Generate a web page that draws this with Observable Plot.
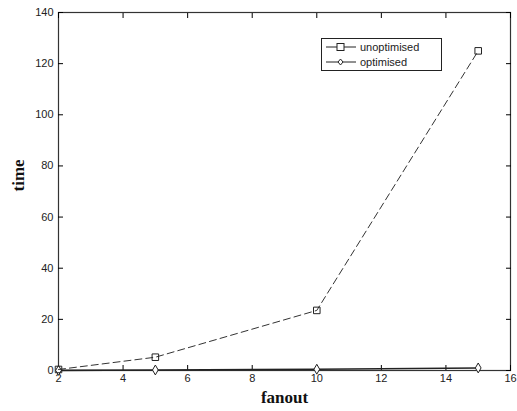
<!DOCTYPE html>
<html><head><meta charset="utf-8">
<script src="https://cdn.jsdelivr.net/npm/d3@7"></script>
<script src="https://cdn.jsdelivr.net/npm/@observablehq/plot@0.6"></script>
<style>
body{margin:0;background:#fff;}
#wrap{position:relative;width:517px;height:411px;overflow:hidden;}
#legend{position:absolute;left:321px;top:38px;width:121px;height:33px;border:1px solid #222;background:#fff;font:11px "Liberation Sans",Arial,sans-serif;color:#222;box-sizing:border-box;}
#legend div{height:15px;display:flex;align-items:center;}
</style>
</head><body><div id="wrap"></div>
<script>
const fanout = [2, 5, 10, 15];
const unoptimised = [0.4, 5.2, 23.5, 125];
const optimised = [0.05, 0.2, 0.5, 1.0];
const xTicks = [2, 4, 6, 8, 10, 12, 14, 16];
const yTicks = [0, 20, 40, 60, 80, 100, 120, 140];
const seriesNames = ["unoptimised", "optimised"];

const unopt = fanout.map((f, i) => ({fanout: f, time: unoptimised[i]}));
const opt = fanout.map((f, i) => ({fanout: f, time: optimised[i]}));
const tickFont = {fontFamily: '"Liberation Sans", Arial, sans-serif', fontSize: 11, fill: "#222"};

const chart = Plot.plot({
  width: 517, height: 411,
  marginLeft: 58, marginRight: 7, marginTop: 12, marginBottom: 41,
  style: {background: "#fff", overflow: "hidden"},
  x: {domain: [2, 16]},
  y: {domain: [0, 140]},
  marks: [
    Plot.frame({stroke: "#333", strokeWidth: 1.2}),
    Plot.axisX({ticks: xTicks, tickSize: -5, tickPadding: 9, label: null, ...tickFont}),
    Plot.axisX({ticks: xTicks, anchor: "top", tickSize: -5, tickFormat: () => "", label: null}),
    Plot.axisY({ticks: yTicks, tickSize: -5, tickPadding: 10, label: null, ...tickFont}),
    Plot.axisY({ticks: yTicks, anchor: "right", tickSize: -5, tickFormat: () => "", label: null}),
    Plot.line(opt, {x: "fanout", y: "time", stroke: "#222", strokeWidth: 1.6}),
    Plot.dot(opt, {x: "fanout", y: "time", symbol: "diamond", r: 3, stroke: "#222", fill: "#fff", strokeWidth: 1}),
    Plot.line(unopt, {x: "fanout", y: "time", stroke: "#333", strokeWidth: 1, strokeDasharray: "7,4"}),
    Plot.dot(unopt, {x: "fanout", y: "time", symbol: "square", r: 3.7, stroke: "#222", fill: "none", strokeWidth: 1}),
    Plot.text(["fanout"], {frameAnchor: "bottom", dy: 32, fontFamily: '"Liberation Serif", "Times New Roman", serif', fontWeight: "bold", fontSize: 17, fill: "#111"}),
    Plot.text(["time"], {frameAnchor: "left", dx: -40, rotate: -90, fontFamily: '"Liberation Serif", "Times New Roman", serif', fontWeight: "bold", fontSize: 17, fill: "#111"})
  ]
});
const wrap = document.getElementById("wrap");
wrap.appendChild(chart);

const legend = document.createElement("div");
legend.id = "legend";
const sym = [
  '<svg width="38" height="12"><line x1="4" y1="6" x2="34" y2="6" stroke="#222"/><rect x="15" y="2.5" width="7" height="7" fill="#fff" stroke="#222"/></svg>',
  '<svg width="38" height="12"><line x1="4" y1="6" x2="34" y2="6" stroke="#222"/><path d="M18.5,3L21,6L18.5,9L16,6Z" fill="#fff" stroke="#222"/></svg>'
];
legend.innerHTML = seriesNames.map((n, i) => `<div>${sym[i]}<span>${n}</span></div>`).join("");
wrap.appendChild(legend);
</script></body></html>
